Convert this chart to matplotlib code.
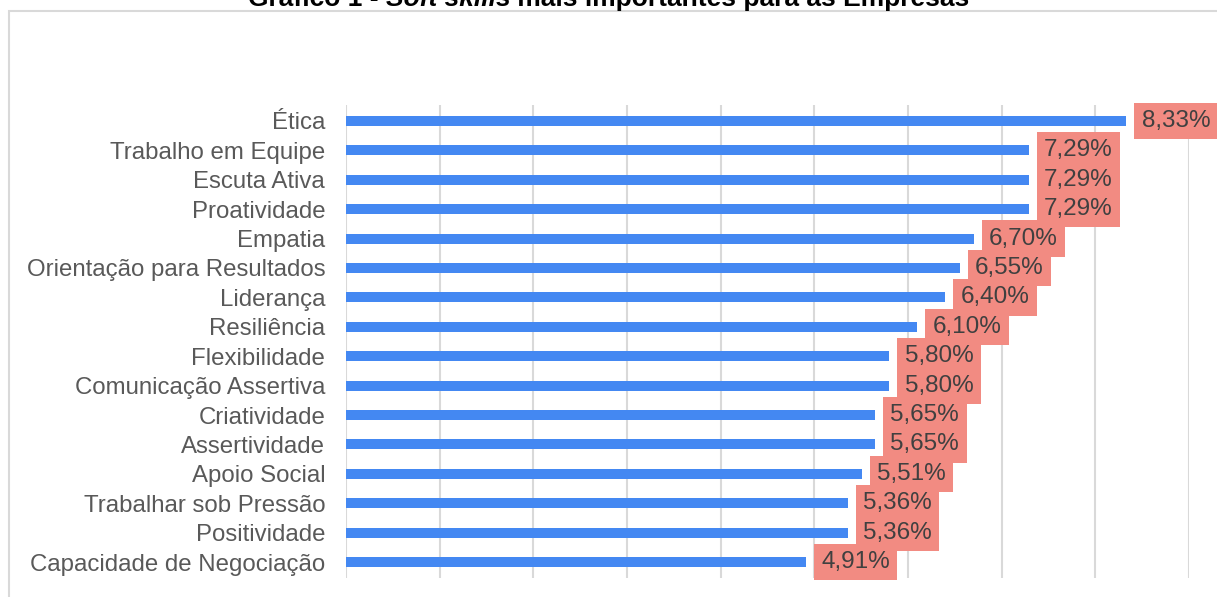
import matplotlib
matplotlib.use("Agg")
import matplotlib.pyplot as plt
from matplotlib.patches import Rectangle

plt.rcParams["font.family"] = ["Liberation Sans", "DejaVu Sans"]

skills = [
    "Ética", "Trabalho em Equipe", "Escuta Ativa", "Proatividade", "Empatia",
    "Orientação para Resultados", "Liderança", "Resiliência", "Flexibilidade",
    "Comunicação Assertiva", "Criatividade", "Assertividade", "Apoio Social",
    "Trabalhar sob Pressão", "Positividade", "Capacidade de Negociação",
]
values = [8.33, 7.29, 7.29, 7.29, 6.70, 6.55, 6.40, 6.10, 5.80, 5.80,
          5.65, 5.65, 5.51, 5.36, 5.36, 4.91]

bar_color = "#4488F2"
label_bg = "#F28B82"
grid_color = "#D9D9D9"

fig = plt.figure(figsize=(12.17, 5.97), dpi=100)
ax = fig.add_axes([346 / 1217, 19 / 597, (1189 - 346) / 1217, (492 - 19) / 597])

# chart area border (cut off at right/bottom in the reference)
fig.patches.append(Rectangle((8.5 / 1217, -0.1), 1.2, (597 - 11) / 597 + 0.1,
                             transform=fig.transFigure, fill=False,
                             edgecolor=grid_color, linewidth=1.5))

y = list(range(len(skills)))
ax.barh(y, values, height=0.34, color=bar_color, zorder=3)

for yi, v in zip(y, values):
    ax.annotate(f"{v:.2f}%".replace(".", ","), xy=(v, yi), xytext=(11, 0),
                textcoords="offset points", ha="left", va="center",
                fontsize=17.5, color="#404040", zorder=4,
                bbox=dict(boxstyle="square,pad=0.3", fc=label_bg, ec="none"))

ax.set_xlim(0, 9)
ax.set_ylim(15.54, -0.54)
ax.set_xticks(range(10))
ax.set_xticklabels([])
ax.set_yticks(y)
ax.set_yticklabels(skills, fontsize=17.3, color="#595959")
ax.tick_params(axis="both", length=0)
ax.tick_params(axis="y", pad=15)
ax.grid(axis="x", color=grid_color, linewidth=1.5, zorder=0)
for s in ax.spines.values():
    s.set_visible(False)

# title, partly cut off at the top
ty = 591 / 597
t1 = fig.text(248 / 1217, ty, "Gráfico 1 - ", fontsize=19,
              fontweight="bold", ha="left", va="baseline", color="#000000")
t2 = fig.text(0, 0, "Soft skills", fontsize=19, fontweight="bold",
              fontstyle="italic", ha="left", va="baseline", color="#000000")
t3 = fig.text(0, 0, " mais importantes para as Empresas", fontsize=19,
              fontweight="bold", ha="left", va="baseline", color="#000000")

fig.canvas.draw()
r = fig.canvas.get_renderer()
bb1 = t1.get_window_extent(r)
t2.set_position((bb1.x1 / fig.bbox.width, ty))
bb2 = t2.get_window_extent(r)
t3.set_position((bb2.x1 / fig.bbox.width, ty))

fig.savefig("out.png", dpi=100)
